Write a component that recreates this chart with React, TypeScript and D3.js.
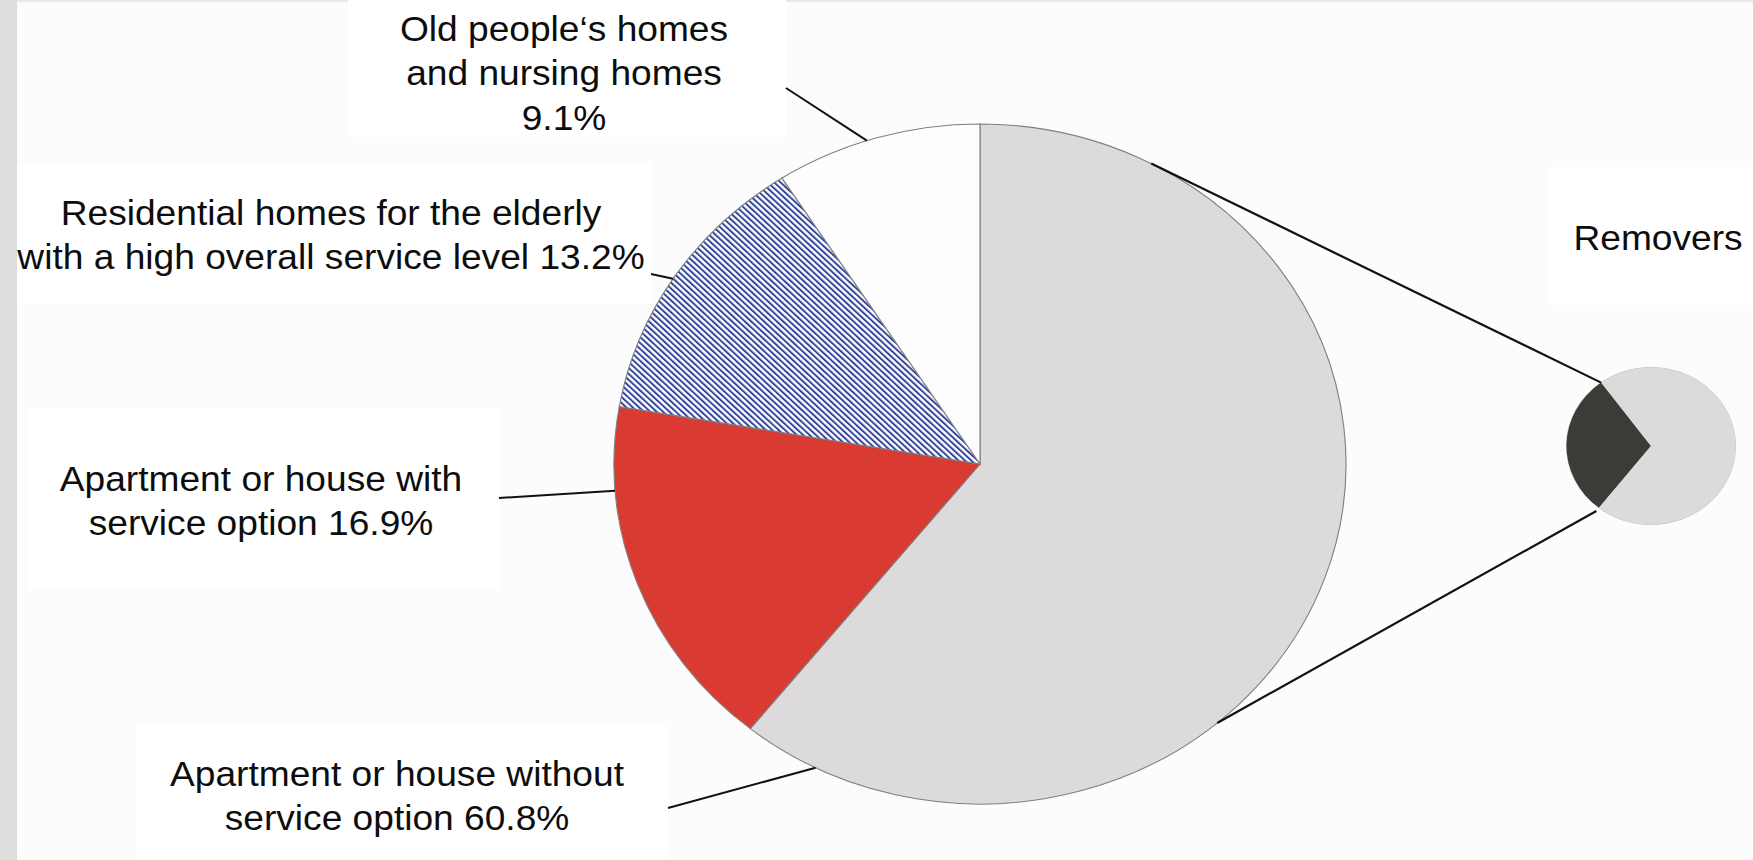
import React from "react";
import * as d3 from "d3";

// ---- data ----
const categories = [
  "Apartment or house without service option",
  "Apartment or house with service option",
  "Residential homes for the elderly with a high overall service level",
  "Old people‘s homes and nursing homes",
];
const shares = [60.8, 16.9, 13.2, 9.1];
const removerTitle = "Removers";
const removerParts = ["Removers", "Non-removers"];
const removerShares = [29.4, 70.6];

// ---- styles / layout ----
const sliceColors = ["#dcdadb", "#d93a31", "url(#hatch)", "#fdfdfd"];
const removerColors = ["#3c3b36", "#dcdadb"];
const W = 1753;
const H = 860;
const SX = 1.0765; // horizontal stretch of the original picture
const MAIN = { cx: 980, cy: 464, r: 340 };
const SMALL = { cx: 1651, cy: 446, r: 78.5, startDeg: 218 };
const FONT = 34.5;
const LINE_H = 44.4;

const labelLayout = [
  { lines: ["Apartment or house without", "service option"], x: 397, y: 786, from: [668, 808], angle: 206.7 },
  { lines: ["Apartment or house with", "service option"], x: 261, y: 491, from: [499, 498], angle: 265.5 },
  { lines: ["Residential homes for the elderly", "with a high overall service level"], x: 331, y: 225, from: [651, 274], angle: 303 },
  { lines: ["Old people‘s homes", "and nursing homes", ""], x: 564, y: 41, from: [786, 88], angle: 342 },
];
const labelBoxes = [
  [348, 0, 438, 137],
  [17, 163, 634, 140],
  [28, 408, 471, 182],
  [137, 725, 531, 135],
  [1548, 167, 205, 138],
];
const connectors = [
  { mainDeg: 27.9, end: "endAngle", k: 1.0 },
  { mainDeg: 139.6, end: "startAngle", k: 1.05 },
];

const rad = (d: number) => (d * Math.PI) / 180;
const ept = (cx: number, cy: number, r: number, a: number, k = 1): [number, number] => [
  cx + r * SX * k * Math.sin(a),
  cy - r * k * Math.cos(a),
];

export default function App() {
  const pie = d3.pie<number>().sort(null).value((d) => d);
  const arcs = pie(shares);
  const arcMain = d3.arc<d3.PieArcDatum<number>>().innerRadius(0).outerRadius(MAIN.r);

  const smallPie = d3
    .pie<number>()
    .sort(null)
    .value((d) => d)
    .startAngle(rad(SMALL.startDeg))
    .endAngle(rad(SMALL.startDeg) + 2 * Math.PI);
  const smallArcs = smallPie(removerShares);
  const arcSmall = d3.arc<d3.PieArcDatum<number>>().innerRadius(0).outerRadius(SMALL.r);
  const dark = smallArcs[0];

  const fmt = d3.format(".1f");

  return (
    <svg
      width={W}
      height={H}
      style={{ position: "absolute", left: 0, top: 0, display: "block" }}
      fontFamily="'Liberation Sans', Arial, sans-serif"
    >
      <defs>
        <pattern id="hatch" patternUnits="userSpaceOnUse" width={4.2} height={4.2} patternTransform="rotate(-45)">
          <rect width={4.2} height={4.2} fill="#ffffff" />
          <rect width={1.9} height={4.2} fill="#33459a" />
        </pattern>
      </defs>
      <rect width={W} height={H} fill="#fcfcfc" />
      <rect x={0} y={0} width={17} height={H} fill="#dddddd" />
      <rect x={17} y={0} width={W - 17} height={2} fill="#e8e8e8" />
      {labelBoxes.map((b, i) => (
        <rect key={i} x={b[0]} y={b[1]} width={b[2]} height={b[3]} fill="#ffffff" />
      ))}

      {/* main pie */}
      <g transform={`translate(${MAIN.cx},${MAIN.cy}) scale(${SX},1)`}>
        {arcs.map((a, i) => (
          <path
            key={categories[i]}
            d={arcMain(a) || ""}
            fill={sliceColors[i]}
            stroke="#7f7f7f"
            strokeWidth={1.1}
            vectorEffect="non-scaling-stroke"
          />
        ))}
      </g>

      {/* small pie */}
      <g transform={`translate(${SMALL.cx},${SMALL.cy}) scale(${SX},1)`}>
        <circle r={SMALL.r} fill={removerColors[1]} stroke="#c4c4c4" strokeWidth={1} vectorEffect="non-scaling-stroke" />
        {smallArcs.map((a, i) => (
          <path key={removerParts[i]} d={arcSmall(a) || ""} fill={removerColors[i]} />
        ))}
      </g>

      {/* connectors */}
      {connectors.map((c, i) => {
        const p1 = ept(MAIN.cx, MAIN.cy, MAIN.r, rad(c.mainDeg));
        const ang = c.end === "endAngle" ? dark.endAngle : dark.startAngle;
        const p2 = ept(SMALL.cx, SMALL.cy, SMALL.r, ang, c.k);
        return <line key={i} x1={p1[0]} y1={p1[1]} x2={p2[0]} y2={p2[1]} stroke="#111" strokeWidth={2.2} />;
      })}

      {/* leader lines */}
      {labelLayout.map((l, i) => {
        const p = ept(MAIN.cx, MAIN.cy, MAIN.r, rad(l.angle));
        return <line key={i} x1={l.from[0]} y1={l.from[1]} x2={p[0]} y2={p[1]} stroke="#111" strokeWidth={2} />;
      })}

      {/* labels */}
      {labelLayout.map((l, i) => {
        const last = l.lines[l.lines.length - 1];
        const lines = [...l.lines.slice(0, -1), `${last} ${fmt(shares[i])}%`.trim()];
        return (
          <text
            key={i}
            transform={`translate(${l.x},${l.y}) scale(${SX},1)`}
            textAnchor="middle"
            fontSize={FONT}
            fill="#0d0d0d"
          >
            {lines.map((t, j) => (
              <tspan key={j} x={0} y={j * LINE_H}>
                {t}
              </tspan>
            ))}
          </text>
        );
      })}
      <text
        transform={`translate(1658,250) scale(${SX},1)`}
        textAnchor="middle"
        fontSize={FONT}
        fill="#0d0d0d"
      >
        {removerTitle}
      </text>
    </svg>
  );
}
